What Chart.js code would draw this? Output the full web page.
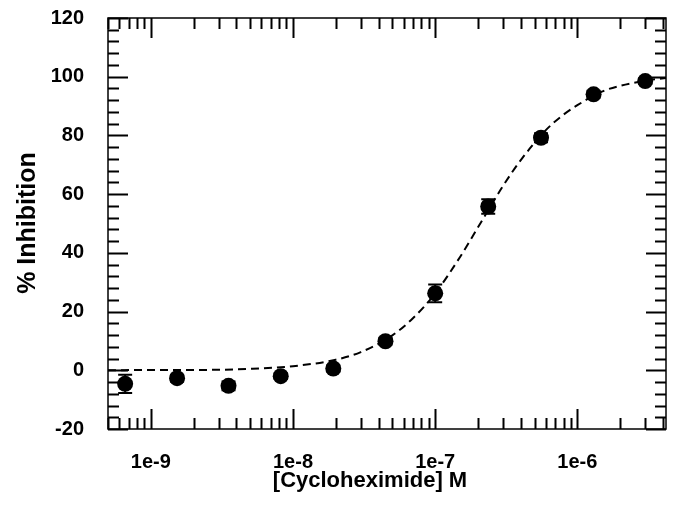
<!DOCTYPE html>
<html>
<head>
<meta charset="utf-8">
<script src="https://cdn.jsdelivr.net/npm/chart.js@4.4.1/dist/chart.umd.min.js"></script>
<style>
body{margin:0;background:#fff;}
#box{width:674px;height:511px;}
</style>
</head>
<body>
<div id="box"><canvas id="mainChart" width="674" height="511"></canvas></div>
<script>

/* DATA */

const concentrations = [6.6e-10, 1.53e-9, 3.52e-9, 8.2e-9, 1.92e-8, 4.47e-8, 1.0e-7, 2.36e-7, 5.55e-7, 1.3e-6, 3.0e-6];

const inhibition = [-4.6, -2.7, -5.3, -2.0, 0.6, 9.9, 26.2, 55.8, 79.2, 94.0, 98.5];

const inhibitionErr = [3.1, 1.2, 1.5, 1.0, 1.0, 1.2, 3.0, 2.5, 1.5, 1.2, 1.0];

const fitX = [5e-10, 1e-9, 2e-9, 5e-9, 1e-8, 2e-8, 3e-8, 5e-8, 7e-8, 1e-7, 1.5e-7, 2e-7, 3e-7, 4e-7, 6e-7, 8e-7, 1e-6, 1.5e-6, 2e-6, 3e-6, 4.2e-6];

const fitY = [0.0, 0.1, 0.1, 0.5, 1.4, 3.6, 6.2, 11.9, 17.8, 26.2, 38.7, 48.7, 62.8, 71.6, 81.8, 87.1, 90.3, 95.0, 96.9, 98.6, 99.6];

const xTickValues = [1e-9, 1e-8, 1e-7, 1e-6];

const xTickLabels = ["1e-9", "1e-8", "1e-7", "1e-6"];

const yTickValues = [-20, 0, 20, 40, 60, 80, 100, 120];

const xTitle = "[Cycloheximide] M";

const yTitle = "% Inhibition";

/* STYLE */

const FONT = "'Liberation Sans', Arial, sans-serif";

/* FRAME + INWARD TICKS + ERROR BARS + TITLES */

const framePlugin = {

id:"frame",

beforeDatasetsDraw(chart){

const c = chart.ctx;
const xs = chart.scales.x;
const ys = chart.scales.y;

c.save();
c.strokeStyle = "#000";
c.lineWidth = 2;

inhibition.forEach((v, i) => {

const px = xs.getPixelForValue(concentrations[i]);
const top = ys.getPixelForValue(v + inhibitionErr[i]);
const bot = ys.getPixelForValue(v - inhibitionErr[i]);

c.beginPath();
c.moveTo(px, top); c.lineTo(px, bot);
c.moveTo(px - 7, top); c.lineTo(px + 7, top);
c.moveTo(px - 7, bot); c.lineTo(px + 7, bot);
c.stroke();

});

c.restore();

},

afterDraw(chart){

const c = chart.ctx;
const a = chart.chartArea;
const xs = chart.scales.x;
const ys = chart.scales.y;

c.save();

c.strokeStyle = "#000";
c.lineWidth = 1.5;
c.strokeRect(a.left, a.top, a.right - a.left, a.bottom - a.top);

c.lineWidth = 2;
c.beginPath();

/* x ticks, bottom and top */

for(let e = -10; e <= -6; e++){

for(let m = 1; m <= 9; m++){

const v = m * Math.pow(10, e);

if(v < xs.min || v > xs.max) continue;

const px = Math.round(xs.getPixelForValue(v)) + 0.5;
const len = m === 1 ? 20 : 11;

c.moveTo(px, a.bottom); c.lineTo(px, a.bottom - len);
c.moveTo(px, a.top); c.lineTo(px, a.top + len);

}

}

/* y ticks, left and right */

for(let v = -20; v <= 120; v += 4){

const py = Math.round(ys.getPixelForValue(v)) + 0.5;
const len = v % 20 === 0 ? 20 : 11;

c.moveTo(a.left, py); c.lineTo(a.left + len, py);
c.moveTo(a.right, py); c.lineTo(a.right - len, py);

}

c.stroke();

/* axis titles */

c.fillStyle = "#000";
c.textAlign = "center";
c.textBaseline = "middle";

c.font = "bold 22px " + FONT;
c.fillText(xTitle, 370, 481);

c.font = "bold 25px " + FONT;
c.translate(28, 223);
c.rotate(-Math.PI / 2);
c.fillText(yTitle, 0, 0);

c.restore();

}

};

/* CHART SETUP */

const ctx = document.getElementById("mainChart");

const chart = new Chart(ctx, {

type:"scatter",

data:{

datasets:[

{

label:"fit",
data:fitX.map((x, i) => ({x:x, y:fitY[i]})),
showLine:true,
borderColor:"#000",
borderWidth:2,
borderDash:[8,5],
cubicInterpolationMode:"monotone",
pointRadius:0,
order:2

},

{

label:"data",
data:concentrations.map((x, i) => ({x:x, y:inhibition[i]})),
backgroundColor:"#000",
borderColor:"#000",
pointRadius:8,
pointBorderWidth:0,
order:1

}

]

},

options:{

responsive:false,
animation:false,
layout:{
padding:{left:0, top:18, right:4, bottom:0}
},

plugins:{
legend:{display:false},
tooltip:{enabled:false}
},

scales:{

x:{

type:"logarithmic",
min:5e-10,
max:4.2e-6,
grid:{display:false},
border:{display:false},
afterBuildTicks:(s) => { s.ticks = xTickValues.map(v => ({value:v})); },
afterFit:(s) => { s.height = 82; s.paddingLeft = 0; s.paddingRight = 0; },
ticks:{
color:"#000",
padding:13,
maxRotation:0,
autoSkip:false,
font:{family:FONT, size:20, weight:"bold"},
callback:(v) => {
const i = xTickValues.findIndex(t => Math.abs(t - v) / t < 1e-6);
return i >= 0 ? xTickLabels[i] : "";
}
}

},

y:{

min:-20,
max:120,
grid:{display:false},
border:{display:false},
afterBuildTicks:(s) => { s.ticks = yTickValues.map(v => ({value:v})); },
afterFit:(s) => { s.width = 108; s.paddingTop = 0; s.paddingBottom = 0; },
ticks:{
color:"#000",
padding:16,
font:{family:FONT, size:20, weight:"bold"}
}

}

}

},

plugins:[framePlugin]

});

</script>
</body>
</html>
